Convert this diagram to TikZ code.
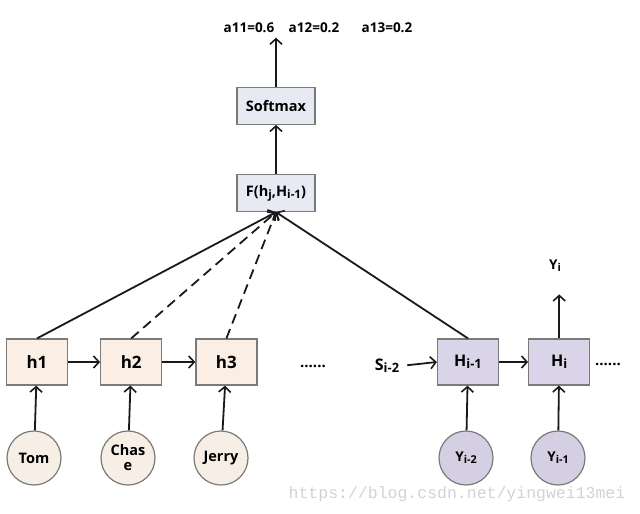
\documentclass[tikz,border=0pt]{standalone}
\usepackage{fontspec}
\setmainfont{Open Sans}
\newfontfamily\wmfont{Liberation Mono}
\usepackage{xcolor}
\usepackage{graphicx}
\usetikzlibrary{positioning,calc,arrows.meta}

\definecolor{encfill}{HTML}{FBEEE4}
\definecolor{wordfill}{HTML}{F7EFE6}
\definecolor{attfill}{HTML}{E7EAF2}
\definecolor{decfill}{HTML}{D9D4E7}
\definecolor{yfill}{HTML}{D5CFE3}
\definecolor{edgegray}{HTML}{7A7A7A}

\newcommand{\lowsub}[1]{\raisebox{-0.25ex}{\scalebox{0.8}{#1}}}

\begin{document}
\begin{tikzpicture}[x=1pt,y=-1pt,
		>={Straight Barb[length=5.5pt,width=12pt,line width=1.6pt]},
		arr/.style={->,line width=1.8pt,black!90},
		enc/.style={draw=edgegray,line width=1.2pt,fill=encfill,minimum width=61pt,minimum height=46pt,font=\bfseries\fontsize{17}{17}\selectfont},
		dec/.style={enc,fill=decfill,font=\bfseries\fontsize{16}{16}\selectfont},
		att/.style={draw=edgegray,line width=1.2pt,fill=attfill,minimum width=78pt,minimum height=37pt,font=\bfseries\fontsize{14.5}{14.5}\selectfont},
		word/.style={circle,draw=edgegray,line width=1.2pt,fill=wordfill,minimum size=54pt,inner sep=1pt,font=\bfseries\fontsize{14.5}{15}\selectfont},
		ycirc/.style={word,fill=yfill,font=\bfseries\fontsize{13.5}{13.5}\selectfont},
		lbl/.style={font=\bfseries\fontsize{16}{16}\selectfont},
		toplbl/.style={font=\bfseries\fontsize{13.5}{13.5}\selectfont},
		dots/.style={font=\bfseries\fontsize{15}{15}\selectfont},
		wm/.style={text=gray!35,font=\wmfont\fontsize{16.5}{16.5}\selectfont}]
	\useasboundingbox (0,0) rectangle (640,514);
	%
	% encoder side
	\node[enc] (h1) at (37,362) {h1};
	\node[enc,right=32pt of h1] (h2) {h2};
	\node[enc,right=33pt of h2] (h3) {h3};
	\node[word] (tom) at (34,458) {Tom};
	\node[word,align=center] (chase) at (128,458) {Chas\\e};
	\node[word] (jerry) at (221,458) {Jerry};
	\node[dots] (ldots) at (313,366) {......};
	%
	% decoder side
	\node[dec] (hm1) at (468,362) {H\lowsub{i-1}};
	\node[dec,right=29pt of hm1] (hi) {H\lowsub{i}};
	\node[ycirc] (ym2) at (466,458) {Y\lowsub{i-2}};
	\node[ycirc] (ym1) at (558,458) {Y\lowsub{i-1}};
	\node[lbl,inner sep=1pt] (sm2) at (387,366) {S\lowsub{i-2}};
	\node[dots] (rdots) at (608,364) {......};
	\node[toplbl] (yi) at (555,266) {Y\lowsub{i}};
	\coordinate (yiout) at ($(hi.north)+(0,-44)$);
	%
	% attention
	\node[att] (f) at (276,193) {F(h\lowsub{j},H\lowsub{i-1})};
	\node[att,above=49pt of f] (smax) {Softmax};
	\coordinate[above=49pt of smax] (aout);
	\node[toplbl] (a1) at (249,28) {a11=0.6};
	\node[toplbl] (a2) at (314,28) {a12=0.2};
	\node[toplbl] (a3) at (387,28) {a13=0.2};
	%
	\draw[arr] (tom) -- (h1);
	\draw[arr] (chase) -- (h2);
	\draw[arr] (jerry) -- (h3);
	\draw[arr] (h1) -- (h2);
	\draw[arr] (h2) -- (h3);
	\draw[arr] (ym2) -- (hm1);
	\draw[arr] (ym1) -- (hi);
	\draw[arr] (hm1) -- (hi);
	\draw[arr,shorten <=7pt] (sm2.east) -- (hm1.west);
	\draw[arr] (hi.north) -- (yiout);
	\draw[arr] (h1.north) -- (f.south);
	\draw[arr,dash pattern=on 10pt off 6pt] (h2.north) -- (f.south);
	\draw[arr,dash pattern=on 10pt off 6pt] (h3.north) -- (f.south);
	\draw[arr] (hm1.north) -- (f.south);
	\draw[arr] (f) -- (smax);
	\draw[arr] (smax) -- (aout);
	%
	\node[wm] (url) at (457,494) {https://blog.csdn.net/yingwei13mei};
\end{tikzpicture}
\end{document}
